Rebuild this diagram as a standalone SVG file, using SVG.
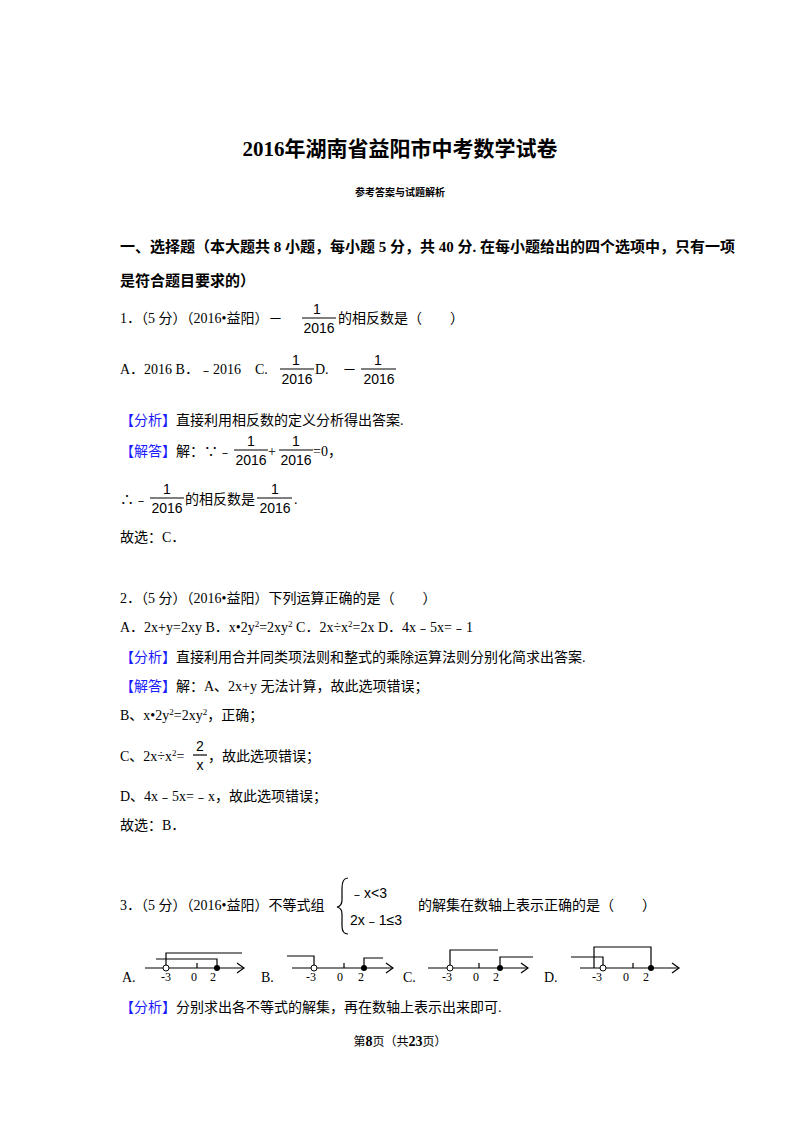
<svg xmlns="http://www.w3.org/2000/svg" width="800" height="1132" viewBox="0 0 800 1132">
<style>
text{font-family:"Liberation Serif","Noto Sans CJK SC",serif;font-size:14px;fill:#000}
.b{font-weight:bold}
.blue{fill:#1a1aff}
.f{font-family:"Liberation Sans","Noto Sans CJK SC",sans-serif;font-size:14px}
.n{font-size:12px}
line,path,polyline{stroke:#000;stroke-width:1.2;fill:none}
</style>
<rect width="800" height="1132" fill="#fff"/>
<text x="400" y="156" text-anchor="middle" class="b" style="font-size:21px">2016年湖南省益阳市中考数学试卷</text>
<text x="400" y="196" text-anchor="middle" class="b" style="font-size:10px">参考答案与试题解析</text>
<text x="120" y="252" class="b" style="font-size:15px">一、选择题（本大题共 8 小题，每小题 5 分，共 40 分. 在每小题给出的四个选项中，只有一项</text>
<text x="120" y="286" class="b" style="font-size:15px">是符合题目要求的）</text>

<text x="120" y="323">1．（5 分）（2016•益阳）－</text>
<text x="317" y="314" class="f" text-anchor="middle">1</text><line x1="302" y1="318" x2="336" y2="318"/><text x="319" y="333" class="f" text-anchor="middle">2016</text>
<text x="338" y="323">的相反数是（　　）</text>

<text x="120" y="374">A．2016 B．﹣2016　C.</text>
<text x="296" y="365" class="f" text-anchor="middle">1</text><line x1="280" y1="369" x2="314" y2="369"/><text x="297" y="384" class="f" text-anchor="middle">2016</text>
<text x="315" y="374">D.　－</text>
<text x="378" y="365" class="f" text-anchor="middle">1</text><line x1="361" y1="369" x2="396" y2="369"/><text x="379" y="384" class="f" text-anchor="middle">2016</text>

<text x="120" y="425"><tspan class="blue">【分析】</tspan>直接利用相反数的定义分析得出答案.</text>
<text x="120" y="456"><tspan class="blue">【解答】</tspan>解：∵﹣</text>
<text x="251" y="446" class="f" text-anchor="middle">1</text><line x1="234" y1="450" x2="268" y2="450"/><text x="251" y="465" class="f" text-anchor="middle">2016</text>
<text x="268" y="456">+</text>
<text x="296" y="446" class="f" text-anchor="middle">1</text><line x1="279" y1="450" x2="313" y2="450"/><text x="296" y="465" class="f" text-anchor="middle">2016</text>
<text x="313" y="456">=0，</text>

<text x="120" y="504">∴﹣</text>
<text x="167" y="494" class="f" text-anchor="middle">1</text><line x1="150" y1="498" x2="184" y2="498"/><text x="167" y="513" class="f" text-anchor="middle">2016</text>
<text x="185" y="504">的相反数是</text>
<text x="275" y="494" class="f" text-anchor="middle">1</text><line x1="257" y1="498" x2="292" y2="498"/><text x="275" y="513" class="f" text-anchor="middle">2016</text>
<text x="294" y="504">.</text>
<text x="120" y="542">故选：C．</text>

<text x="120" y="603">2．（5 分）（2016•益阳）下列运算正确的是（　　）</text>
<text x="120" y="632">A．2x+y=2xy B．x•2y<tspan dy="-5" style="font-size:9px">2</tspan><tspan dy="5">=2xy</tspan><tspan dy="-5" style="font-size:9px">2</tspan><tspan dy="5"> C．2x÷x</tspan><tspan dy="-5" style="font-size:9px">2</tspan><tspan dy="5">=2x D．4x﹣5x=﹣1</tspan></text>
<text x="120" y="662"><tspan class="blue">【分析】</tspan>直接利用合并同类项法则和整式的乘除运算法则分别化简求出答案.</text>
<text x="120" y="691"><tspan class="blue">【解答】</tspan>解：A、2x+y 无法计算，故此选项错误；</text>
<text x="120" y="720">B、x•2y<tspan dy="-5" style="font-size:9px">2</tspan><tspan dy="5">=2xy</tspan><tspan dy="-5" style="font-size:9px">2</tspan><tspan dy="5">，正确；</tspan></text>
<text x="120" y="761">C、2x÷x<tspan dy="-5" style="font-size:9px">2</tspan><tspan dy="5">=</tspan></text>
<text x="200" y="751" class="f" text-anchor="middle">2</text><line x1="193" y1="755" x2="207" y2="755"/><text x="200" y="770" class="f" text-anchor="middle">x</text>
<text x="208" y="761">，故此选项错误；</text>
<text x="120" y="801">D、4x﹣5x=﹣x，故此选项错误；</text>
<text x="120" y="830">故选：B．</text>

<text x="120" y="910">3．（5 分）（2016•益阳）不等式组</text>
<path d="M348 878 Q342 878 342 888 L342 900 Q342 906 337 907 Q342 908 342 914 L342 926 Q342 934 348 934"/>
<text x="350" y="898" class="f">﹣x&lt;3</text>
<text x="350" y="925" class="f">2x﹣1≤3</text>
<text x="418" y="910">的解集在数轴上表示正确的是（　　）</text>

<g id="optA">
<text x="122" y="982">A.</text>
<line x1="145" y1="968" x2="244" y2="968"/><polyline points="237,963 244,968 237,973"/>
<line x1="197" y1="963" x2="197" y2="968"/>
<polyline points="166,968 166,953 242,953"/>
<polyline points="156,959 217,959 217,968"/>
<circle cx="166" cy="968" r="3" fill="#fff" stroke="#000"/><circle cx="217" cy="968" r="3" fill="#000"/>
<text x="166" y="981" class="n" text-anchor="middle">-3</text><text x="194" y="981" class="n" text-anchor="middle">0</text><text x="213" y="981" class="n" text-anchor="middle">2</text>
</g>
<g id="optB">
<text x="261" y="982">B.</text>
<line x1="292" y1="968" x2="393" y2="968"/><polyline points="386,963 393,968 386,973"/>
<line x1="344" y1="963" x2="344" y2="968"/>
<polyline points="287,956 314,956 314,968"/>
<polyline points="364,968 364,958 383,958"/>
<circle cx="314" cy="968" r="3" fill="#fff" stroke="#000"/><circle cx="364" cy="968" r="3" fill="#000"/>
<text x="311" y="981" class="n" text-anchor="middle">-3</text><text x="340" y="981" class="n" text-anchor="middle">0</text><text x="361" y="981" class="n" text-anchor="middle">2</text>
</g>
<g id="optC">
<text x="403" y="982">C.</text>
<line x1="428" y1="968" x2="528" y2="968"/><polyline points="521,963 528,968 521,973"/>
<line x1="479" y1="963" x2="479" y2="968"/>
<polyline points="450,968 450,950 498,950"/>
<polyline points="500,968 500,957 533,957"/>
<circle cx="450" cy="968" r="3" fill="#fff" stroke="#000"/><circle cx="500" cy="968" r="3" fill="#000"/>
<text x="447" y="981" class="n" text-anchor="middle">-3</text><text x="476" y="981" class="n" text-anchor="middle">0</text><text x="496" y="981" class="n" text-anchor="middle">2</text>
</g>
<g id="optD">
<text x="544" y="982">D.</text>
<line x1="580" y1="968" x2="679" y2="968"/><polyline points="672,963 679,968 672,973"/>
<line x1="633" y1="963" x2="633" y2="968"/>
<polyline points="571,957 603,957 603,968"/>
<polyline points="594,968 594,947 651,947 651,968"/>
<circle cx="603" cy="968" r="3" fill="#fff" stroke="#000"/><circle cx="651" cy="968" r="3" fill="#000"/>
<text x="597" y="981" class="n" text-anchor="middle">-3</text><text x="626" y="981" class="n" text-anchor="middle">0</text><text x="646" y="981" class="n" text-anchor="middle">2</text>
</g>
<text x="120" y="1012"><tspan class="blue">【分析】</tspan>分别求出各不等式的解集，再在数轴上表示出来即可.</text>
<text x="400" y="1046" text-anchor="middle" style="font-size:12px">第<tspan class="b" style="font-size:14px">8</tspan>页（共<tspan class="b" style="font-size:14px">23</tspan>页）</text>
</svg>
